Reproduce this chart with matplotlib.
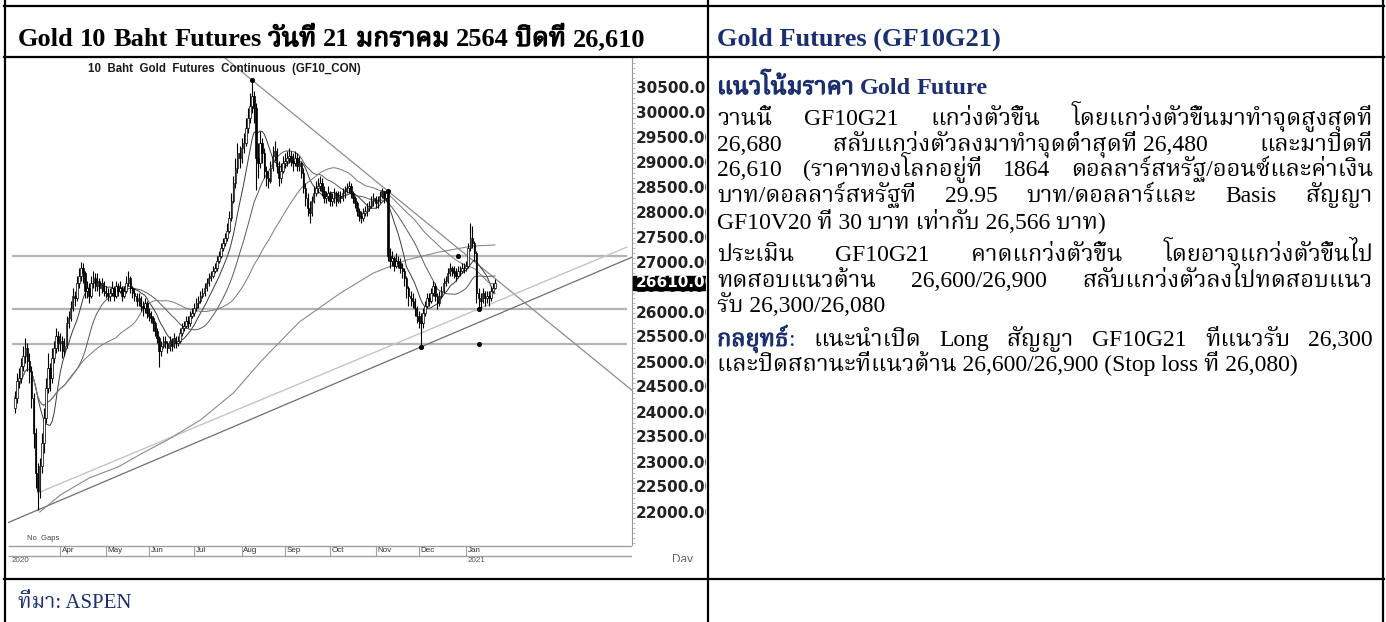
import numpy as np
import pandas as pd
import matplotlib
matplotlib.use("Agg")
import matplotlib.pyplot as plt
import matplotlib.patheffects as pe
from matplotlib import font_manager as fm
from matplotlib.ft2font import FT2Font
from matplotlib.lines import Line2D
from matplotlib.patches import Rectangle
from matplotlib.transforms import Bbox, TransformedBbox, blended_transform_factory

# ---------------------------------------------------------------- data
dates = pd.bdate_range("2020-03-02", "2021-01-21")
first_open = 24100

close = [
    # Mar
    24300, 24650, 24700, 24950, 25150, 25300, 25050, 24850, 24300, 23600, 22800, 22450, 22950, 23400, 23900, 24500, 24900, 24700, 25100, 25300, 25550, 25400,
    # Apr
    25450, 25250, 25350, 25800, 25900, 26100, 26350, 26300, 26600, 26750, 26900, 26800, 26450, 26500, 26350, 26600, 26700, 26550, 26650, 26500, 26600, 26450,
    # May
    26400, 26350, 26400, 26500, 26350, 26550, 26450, 26500, 26350, 26450, 26600, 26700, 26500, 26400, 26350, 26250, 26300, 26150, 26100, 26200, 26000,
    # Jun
    25950, 25900, 25800, 25650, 25500, 25250, 25350, 25450, 25400, 25300, 25450, 25350, 25500, 25400, 25450, 25600, 25700, 25750, 25850, 25800, 25950, 26000,
    # Jul
    26100, 26200, 26250, 26350, 26400, 26500, 26600, 26700, 26750, 26850, 26900, 27050, 27150, 27300, 27400, 27500, 27650, 27900, 28250, 28600, 28900, 29200, 29100,
    # Aug
    29300, 29400, 29700, 29900, 30150, 30350, 30100, 29100, 29000, 29400, 29200, 28850, 28700, 28650, 28900, 29150, 29250, 28950, 28700, 28850, 29000,
    # Sep
    29050, 29100, 29150, 29050, 29000, 29100, 28950, 29000, 28800, 28500, 28300, 28100, 28000, 28250, 28400, 28500, 28550, 28600, 28450, 28300, 28350, 28400,
    # Oct
    28250, 28300, 28400, 28250, 28350, 28300, 28400, 28450, 28500, 28550, 28400, 28300, 28200, 28050, 27950, 27900, 28000, 28050, 28100, 28150, 28250, 28300,
    # Nov
    28200, 28250, 28350, 28450, 28300, 28400, 27150, 27050, 27100, 26950, 27050, 27000, 26900, 26850, 26700, 26500, 26350, 26300, 26250, 26100, 25950,
    # Dec
    25850, 25800, 26000, 26150, 26300, 26250, 26400, 26550, 26350, 26200, 26350, 26450, 26600, 26650, 26800, 26900, 26850, 26800, 26750, 26850, 26850, 26900, 26900,
    # Jan
    26950, 27300, 27500, 27400, 27200, 26400, 26300, 26250, 26400, 26300, 26350, 26300, 26450, 26500, 26610,
]

high = [
    24450, 24800, 24900, 25100, 25350, 25500, 25400, 25200, 24950, 24400, 23700, 23000, 23100, 23600, 24100, 24700, 25200, 25000, 25300, 25450, 25700, 25650,
    25600, 25550, 25500, 25950, 26050, 26250, 26500, 26450, 26750, 26900, 27020, 27000, 26850, 26650, 26600, 26750, 26850, 26800, 26800, 26700, 26700, 26650,
    26550, 26500, 26500, 26650, 26550, 26650, 26600, 26650, 26550, 26550, 26750, 26850, 26750, 26550, 26500, 26400, 26400, 26350, 26250, 26300, 26250,
    26100, 26050, 25950, 25850, 25700, 25550, 25450, 25550, 25550, 25450, 25550, 25500, 25600, 25550, 25550, 25700, 25800, 25850, 25950, 25950, 26050, 26100,
    26200, 26300, 26350, 26450, 26500, 26600, 26700, 26800, 26850, 26950, 27000, 27150, 27250, 27400, 27500, 27600, 27800, 28050, 28400, 28750, 29100, 29400, 29350,
    29500, 29600, 29900, 30100, 30400, 30660, 30450, 30200, 29400, 29650, 29500, 29300, 28950, 28850, 29050, 29350, 29450, 29300, 29050, 29000, 29150,
    29200, 29250, 29300, 29250, 29200, 29250, 29200, 29150, 29050, 28900, 28600, 28400, 28250, 28350, 28550, 28650, 28700, 28750, 28700, 28550, 28450, 28550,
    28450, 28400, 28500, 28450, 28450, 28450, 28500, 28550, 28600, 28650, 28600, 28450, 28350, 28250, 28100, 28050, 28100, 28150, 28200, 28250, 28350, 28400,
    28350, 28350, 28450, 28500, 28450, 28440, 28450, 27300, 27250, 27150, 27200, 27150, 27100, 27000, 26900, 26750, 26550, 26450, 26400, 26300, 26150,
    26050, 26000, 26100, 26250, 26400, 26400, 26500, 26650, 26600, 26400, 26450, 26550, 26700, 26750, 26900, 27000, 26950, 26950, 26900, 26950, 26950, 27000, 27000,
    27050, 27400, 27800, 27750, 27450, 27250, 26500, 26400, 26500, 26450, 26450, 26450, 26550, 26600, 26680,
]

low = [
    24000, 24200, 24500, 24600, 24850, 25000, 24850, 24600, 24100, 23300, 22500, 22060, 22300, 22800, 23200, 23800, 24400, 24450, 24600, 25000, 25200, 25250,
    25250, 25100, 25150, 25300, 25700, 25850, 26050, 26150, 26250, 26500, 26650, 26600, 26300, 26300, 26200, 26300, 26500, 26450, 26450, 26350, 26400, 26350,
    26300, 26250, 26250, 26350, 26250, 26300, 26350, 26400, 26250, 26300, 26400, 26550, 26400, 26300, 26250, 26150, 26150, 26050, 25950, 26000, 25900,
    25850, 25800, 25650, 25550, 25400, 24920, 25150, 25300, 25300, 25200, 25250, 25250, 25300, 25300, 25350, 25400, 25550, 25650, 25700, 25700, 25750, 25900,
    25950, 26050, 26100, 26200, 26300, 26350, 26450, 26550, 26650, 26700, 26800, 26850, 27000, 27100, 27250, 27350, 27450, 27600, 27850, 28200, 28500, 28800, 28900,
    29000, 29200, 29350, 29600, 29800, 30000, 29800, 28460, 28700, 28900, 29000, 28700, 28550, 28500, 28600, 28850, 29050, 28800, 28550, 28600, 28800,
    28900, 28950, 29000, 28950, 28850, 28950, 28850, 28850, 28700, 28400, 28150, 27950, 27800, 27950, 28200, 28350, 28400, 28450, 28350, 28200, 28200, 28250,
    28150, 28150, 28200, 28150, 28200, 28200, 28250, 28300, 28400, 28400, 28300, 28200, 28100, 27950, 27850, 27800, 27850, 27950, 27950, 28050, 28100, 28150,
    28100, 28100, 28200, 28300, 28200, 28250, 27050, 26900, 26950, 26850, 26900, 26900, 26800, 26700, 26550, 26300, 26150, 26150, 26100, 25950, 25800,
    25700, 25320, 25700, 25950, 26100, 26150, 26200, 26350, 26250, 26080, 26150, 26300, 26400, 26550, 26600, 26750, 26750, 26700, 26650, 26700, 26750, 26800, 26800,
    26850, 26900, 27250, 27300, 27050, 26200, 26080, 26100, 26200, 26150, 26200, 26150, 26250, 26400, 26480,
]

# long moving average (at sample days)
long_ma_idx = [12, 22, 36, 50, 62, 74, 90, 106, 120, 138, 158, 174, 190, 206, 222, 233]
long_ma_val = [22020, 22360, 22700, 22920, 23200, 23460, 23860, 24400, 25060, 25820, 26400, 26800, 27060, 27220, 27340, 27360]

ma_windows = [10, 25, 50]
levels = [27140, 26080, 25380]
trend_down = [(115, 30660), (181, 28440)]
trend_low = [(11, 22060), (197, 25320)]
trend_up = [(11, 22400), (225, 26080)]
marker_idx = [115, 181, 215, 225, 225, 197]
marker_val = [30660, 28440, 27140, 26080, 25380, 25320]
ytick_vals = list(range(22000, 30501, 500))
last_price = 26610

# ---------------------------------------------------------------- fonts
def find_thai_family():
    prefs = ["Norasi", "Kinnari", "Laksaman", "Noto Serif Thai", "TH Sarabun New",
             "Tlwg Typo", "Garuda", "Loma", "Noto Sans Thai", "Waree", "Sawasdee", "Umpush"]
    found = {}
    for f in fm.fontManager.ttflist:
        if f.name in found:
            continue
        try:
            cm = FT2Font(f.fname).get_charmap()
        except Exception:
            continue
        if 0x0E01 in cm and 0x0E35 in cm:
            found[f.name] = f
    for p in prefs:
        if p in found:
            return p
    return next(iter(found), None)

thai = find_thai_family()
THAI = ([thai] if thai else []) + ["DejaVu Sans"]
LATIN = ["Liberation Serif", "DejaVu Sans"]
MIXED = ["Liberation Serif"] + THAI
SANS = ["Liberation Sans", "DejaVu Sans"]
NAVY = "#1b2f6e"

W, H = 1386, 622
fig = plt.figure(figsize=(W / 100, H / 100), dpi=100)
r = fig.canvas.get_renderer()


def frac(x0, y0, x1, y1):
    return [x0 / W, 1 - y1 / H, (x1 - x0) / W, (y1 - y0) / H]


# ---------------------------------------------------------------- chart
chart_clip = TransformedBbox(Bbox.from_extents(7 / W, 1 - 562 / H, 706 / W, 1 - 58 / H), fig.transFigure)

ax = fig.add_axes(frac(8, 58, 632, 545))
ax.set_xlim(-3.4, 299.5)
ax.set_ylim(21360, 31100)
for s in ["top", "left", "bottom"]:
    ax.spines[s].set_visible(False)
ax.spines["right"].set_color("#9a9a9a")
ax.spines["right"].set_linewidth(0.8)
ax.set_xticks([])
ax.yaxis.tick_right()
ax.set_yticks(ytick_vals)
ax.set_yticklabels([])
ax.set_yticks(np.arange(21400, 31100, 100), minor=True)
ax.tick_params(axis="y", which="both", direction="out", length=2, color="#b0b0b0", width=0.6)

n = len(close)
idx = np.arange(n)
c = np.array(close, float)
h = np.array(high, float)
lo = np.array(low, float)
o = np.r_[first_open, c[:-1]]          # chart is drawn with "No Gaps"
h = np.maximum(h, np.maximum(o, c))
lo = np.minimum(lo, np.minimum(o, c))

xl0, xl1 = -1.5, 297
ax.hlines(levels, xl0, xl1, color="#b4b4b4", lw=1.6, zorder=1)

ax.axline(trend_down[0], trend_down[1], color="#8c8c8c", lw=0.9, zorder=1)
ax.axline(trend_low[0], trend_low[1], color="#6e6e6e", lw=0.9, zorder=1)
(ux0, uy0), (ux1, uy1) = trend_up
slope = (uy1 - uy0) / (ux1 - ux0)
ax.plot([ux0, xl1], [uy0, uy0 + slope * (xl1 - ux0)], color="#c4c4c4", lw=1.0, zorder=1)

ax.plot(long_ma_idx, long_ma_val, color="#8a8a8a", lw=0.8, zorder=2)
ma_colors = ["#3a3a3a", "#5a5a5a", "#7a7a7a"]
for wdw, col in zip(ma_windows, ma_colors):
    ma = pd.Series(c).rolling(wdw, min_periods=1).mean()
    ax.plot(idx, ma, color=col, lw=0.7, zorder=2)

ax.vlines(idx, lo, h, color="black", lw=0.8, zorder=3)
up = c >= o
bh = np.abs(c - o)
bb = np.minimum(o, c)
ax.bar(idx[up], bh[up], bottom=bb[up], width=0.75, color="white", edgecolor="black", lw=0.5, zorder=4)
ax.bar(idx[~up], bh[~up], bottom=bb[~up], width=0.75, color="black", edgecolor="black", lw=0.5, zorder=4)

ax.scatter(marker_idx, marker_val, s=7, color="black", zorder=5)

ax.text(0.129, 0.978, "10  Baht  Gold  Futures  Continuous  (GF10_CON)", transform=ax.transAxes,
        family=SANS, fontweight="bold", fontsize=8.3, color="#1a1a1a", va="center", ha="left")
ax.text(6, 21500, "No  Gaps", family=SANS, fontsize=5.5, color="#444444", va="center")

ytr = blended_transform_factory(fig.transFigure, ax.transData)
for v in ytick_vals:
    t = fig.text(636 / W, v, f"{v:.2f}", transform=ytr, family="DejaVu Sans", fontweight="bold",
                 fontsize=11, color="#222222", va="center", ha="left")
    t.set_clip_box(chart_clip)
    t.set_clip_on(True)
box = Rectangle((633 / W, last_price - 140), 80 / W, 280, transform=ytr, color="black", zorder=5)
box.set_clip_box(chart_clip)
fig.add_artist(box)
t = fig.text(636 / W, last_price, f"{last_price:.2f}", transform=ytr, family="DejaVu Sans",
             fontweight="bold", fontsize=11, color="white", va="center", ha="left", zorder=6)
t.set_clip_box(chart_clip)
t.set_clip_on(True)

axb = fig.add_axes(frac(8, 545, 632, 562))
axb.set_xlim(ax.get_xlim())
axb.set_ylim(562, 545)
axb.set_axis_off()
axb.hlines([545.6, 555.5], -3.4, 299.5, color="#a0a0a0", lw=1.0)
month_start = [i for i in range(1, n) if dates[i].month != dates[i - 1].month]
for i in month_start:
    axb.vlines(i, 545.6, 555.5, color="#a0a0a0", lw=0.8)
    axb.text(i + 0.8, 550.5, dates[i].strftime("%b"), family=SANS, fontsize=5.8, color="#333333",
             va="center", ha="left")
axb.text(-1.5, 560.8, str(dates[0].year), family=SANS, fontsize=5.8, color="#555555", va="center", clip_on=True)
jan = [i for i in month_start if dates[i].month == 1][0]
axb.text(jan + 0.8, 560.8, str(dates[jan].year), family=SANS, fontsize=5.8, color="#555555", va="center", clip_on=True)
td = fig.text(672 / W, 1 - 560 / H, "Day", family=SANS, fontsize=8.5, color="#666666", va="center")
td.set_clip_box(chart_clip)
td.set_clip_on(True)

# ---------------------------------------------------------------- table frame
def hline(y, x0=4, x1=1384, lw=1.6):
    fig.add_artist(Line2D([x0 / W, x1 / W], [1 - y / H, 1 - y / H], color="black", lw=lw, transform=fig.transFigure))


def vline(x, y0=0, y1=H, lw=1.6):
    fig.add_artist(Line2D([x / W, x / W], [1 - y0 / H, 1 - y1 / H], color="black", lw=lw, transform=fig.transFigure))


hline(6)
hline(57)
hline(579)
vline(5)
vline(708)
vline(1383)

# ---------------------------------------------------------------- mixed Thai / Latin text
_wc = {}


def is_thai(ch):
    return "\u0e00" <= ch <= "\u0e7f"


def w_of(s, size, weight, fam):
    key = (s, size, weight, tuple(fam))
    if key not in _wc:
        t = fig.text(0, 0, s, fontsize=size, fontweight=weight, family=fam)
        _wc[key] = t.get_window_extent(renderer=r).width
        t.remove()
    return _wc[key]


def space_w(size, weight="normal"):
    return w_of("a a", size, weight, LATIN) - w_of("aa", size, weight, LATIN)


def pieces(s):
    out = []
    for ch in s:
        k = "sp" if ch == " " else ("th" if is_thai(ch) else "la")
        if out and out[-1][1] == k and k != "sp":
            out[-1][0] += ch
        else:
            out.append([ch, k])
    return out


def needs_split(s, weight):
    return weight == "bold" and any(is_thai(ch) for ch in s)


def seg_width(s, size, weight):
    if not needs_split(s, weight):
        return w_of(s, size, weight, MIXED)
    tot = 0
    for txt, k in pieces(s):
        if k == "sp":
            tot += space_w(size, weight)
        else:
            tot += w_of(txt, size, weight, THAI if k == "th" else LATIN)
    return tot


def draw_seg(x, y, s, size, color="black", weight="normal", stroke=0.7):
    if not needs_split(s, weight):
        fig.text(x / W, 1 - y / H, s, fontsize=size, color=color, fontweight=weight,
                 family=MIXED, va="baseline", ha="left")
        return x + w_of(s, size, weight, MIXED)
    for txt, k in pieces(s):
        if k == "sp":
            x += space_w(size, weight)
            continue
        fam = THAI if k == "th" else LATIN
        t = fig.text(x / W, 1 - y / H, txt, fontsize=size, color=color, fontweight=weight,
                     family=fam, va="baseline", ha="left")
        if k == "th":
            t.set_path_effects([pe.withStroke(linewidth=stroke, foreground=color)])
        x += w_of(txt, size, weight, fam)
    return x


draw_seg(18, 46, "Gold 10 Baht Futures วันที่ 21 มกราคม 2564 ปิดที่ 26,610", 19, weight="bold", stroke=1.0)
draw_seg(717, 46, "Gold Futures (GF10G21)", 19, color=NAVY, weight="bold")
draw_seg(717, 94, "แนวโน้มราคา Gold Future", 17.5, color=NAVY, weight="bold", stroke=0.9)
draw_seg(18, 608, "ที่มา: ASPEN", 15, color=NAVY)

BODY = 17
X0, X1 = 717, 1373


def draw_line(words, y, justify):
    segs = [[(s, "black", "normal")] if isinstance(s, str) else s for s in words]
    ws = [[seg_width(t, BODY, wt) for t, col, wt in seg] for seg in segs]
    tot = sum(sum(w) for w in ws)
    gap = (X1 - X0 - tot) / (len(segs) - 1) if (justify and len(segs) > 1) else space_w(BODY)
    x = X0
    for seg in segs:
        for t, col, wt in seg:
            x = draw_seg(x, y, t, BODY, color=col, weight=wt)
        x += gap


body_lines = [
    (["วานนี้", "GF10G21", "แกว่งตัวขึ้น", "โดยแกว่งตัวขึ้นมาทำจุดสูงสุดที่"], 125, True),
    (["26,680", "สลับแกว่งตัวลงมาทำจุดต่ำสุดที่ 26,480", "และมาปิดที่"], 151, True),
    (["26,610", "(ราคาทองโลกอยู่ที่", "1864", "ดอลลาร์สหรัฐ/ออนซ์และค่าเงิน"], 176, True),
    (["บาท/ดอลลาร์สหรัฐที่", "29.95", "บาท/ดอลลาร์และ", "Basis", "สัญญา"], 202, True),
    (["GF10V20 ที่ 30 บาท เท่ากับ 26,566 บาท)"], 228, False),
    (["ประเมิน", "GF10G21", "คาดแกว่งตัวขึ้น", "โดยอาจแกว่งตัวขึ้นไป"], 261, True),
    (["ทดสอบแนวต้าน", "26,600/26,900", "สลับแกว่งตัวลงไปทดสอบแนว"], 287, True),
    (["รับ 26,300/26,080"], 312, False),
    ([[("กลยุทธ์", NAVY, "bold"), (":", NAVY, "normal")], "แนะนำเปิด", "Long", "สัญญา", "GF10G21",
      "ที่แนวรับ", "26,300"], 346, True),
    (["และปิดสถานะที่แนวต้าน 26,600/26,900 (Stop loss ที่ 26,080)"], 371, False),
]
for words, y, just in body_lines:
    draw_line(words, y, just)

fig.savefig("out.png", dpi=100)
